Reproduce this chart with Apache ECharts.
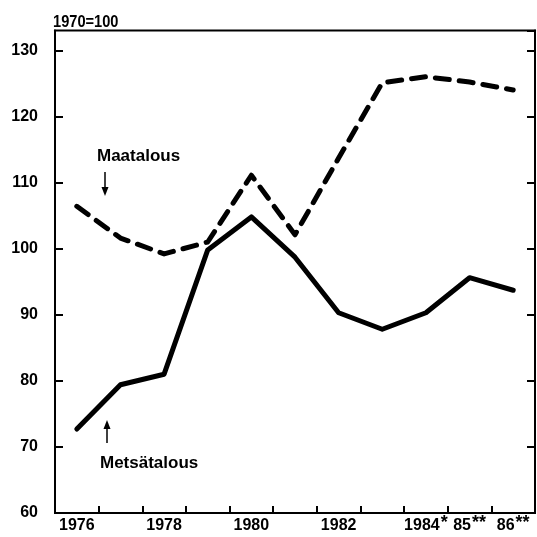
<!DOCTYPE html>
<html>
<head>
<meta charset="utf-8">
<script src="https://cdn.jsdelivr.net/npm/echarts@6/dist/echarts.min.js"></script>
<style>html,body{margin:0;padding:0;background:#fff;}#c{width:537px;height:537px;}</style>
</head>
<body>
<div id="c"></div>
<script>
var years = ['1976','1977','1978','1979','1980','1981','1982','1983','1984','1985','1986'];
var xLabels = ['1976','','1978','','1980','','1982','','1984*','85**','86**'];
var maatalous = [106.4, 101.6, 99.2, 101.0, 111.1, 102.1, 113.7, 125.1, 126.0, 125.2, 124.0];
var metsatalous = [72.7, 79.4, 81.0, 99.8, 104.8, 98.7, 90.3, 87.8, 90.3, 95.6, 93.7];
var yTicks = [60, 70, 80, 90, 100, 110, 120, 130];
var baseLabel = '1970=100';

var FONT = "'Liberation Sans', Arial, sans-serif";

var chart = echarts.init(document.getElementById('c'), null, {renderer: 'canvas'});

function fmtX(v, i) {
  var s = xLabels[i];
  if (!s) return '';
  var m = s.match(/^(\d+)(\**)$/);
  if (m[2]) return '{n|' + m[1] + '}{s|' + m[2] + '}';
  return '{n|' + m[1] + '}';
}

var yAxisBase = {
  type: 'value', min: 60, max: 133, interval: 10,
  splitLine: {show: false},
  axisLine: {show: true, lineStyle: {color: '#000', width: 2}},
  axisTick: {show: true, inside: true, length: 8, lineStyle: {color: '#000', width: 2}}
};

chart.setOption({
  animation: false,
  backgroundColor: '#fff',
  grid: {left: 55, right: 2, top: 30.5, bottom: 24, show: true, borderColor: '#000', borderWidth: 2, containLabel: false},
  xAxis: {
    type: 'category', data: years, boundaryGap: true,
    axisLine: {lineStyle: {color: '#000', width: 2}},
    axisTick: {show: true, inside: true, length: 7, interval: 0, lineStyle: {color: '#000', width: 2}},
    axisLabel: {
      interval: 0, margin: 1, formatter: fmtX,
      rich: {
        n: {fontFamily: FONT, fontWeight: 'bold', fontSize: 16, color: '#000', lineHeight: 24},
        s: {fontFamily: FONT, fontWeight: 'bold', fontSize: 18, color: '#000', lineHeight: 16, verticalAlign: 'top', padding: [0, 0, 0, 1]}
      }
    }
  },
  yAxis: [
    Object.assign({}, yAxisBase, {
      position: 'left',
      axisLabel: {
        margin: 17, showMaxLabel: false,
        fontFamily: FONT, fontWeight: 'bold', fontSize: 16, color: '#000',
        formatter: function (v) { return yTicks.indexOf(v) >= 0 ? String(v) : ''; }
      }
    }),
    Object.assign({}, yAxisBase, {position: 'right', axisLabel: {show: false}})
  ],
  series: [
    {
      name: 'Maatalous', type: 'line', data: maatalous, symbol: 'none', yAxisIndex: 0,
      lineStyle: {color: '#000', width: 5, type: [14, 10], cap: 'round', join: 'round'}
    },
    {
      name: 'Metsätalous', type: 'line', data: metsatalous, symbol: 'none', yAxisIndex: 0,
      lineStyle: {color: '#000', width: 5, type: 'solid', cap: 'round', join: 'round'}
    }
  ],
  graphic: [
    {type: 'text', x: 53, y: 14, scaleX: 0.86, style: {text: baseLabel, fontFamily: FONT, fontWeight: 'bold', fontSize: 17, fill: '#000'}},
    {type: 'text', left: 97, top: 148, style: {text: 'Maatalous', fontFamily: FONT, fontWeight: 'bold', fontSize: 17, fill: '#000'}},
    {type: 'line', shape: {x1: 105, y1: 172, x2: 105, y2: 190}, style: {stroke: '#000', lineWidth: 1.5}},
    {type: 'polygon', shape: {points: [[101.5, 187], [108.5, 187], [105, 196]]}, style: {fill: '#000'}},
    {type: 'text', left: 100, top: 455, style: {text: 'Metsätalous', fontFamily: FONT, fontWeight: 'bold', fontSize: 17, fill: '#000'}},
    {type: 'line', shape: {x1: 107, y1: 443, x2: 107, y2: 427}, style: {stroke: '#000', lineWidth: 1.5}},
    {type: 'polygon', shape: {points: [[103.5, 429], [110.5, 429], [107, 420]]}, style: {fill: '#000'}}
  ]
});
</script>
</body>
</html>
